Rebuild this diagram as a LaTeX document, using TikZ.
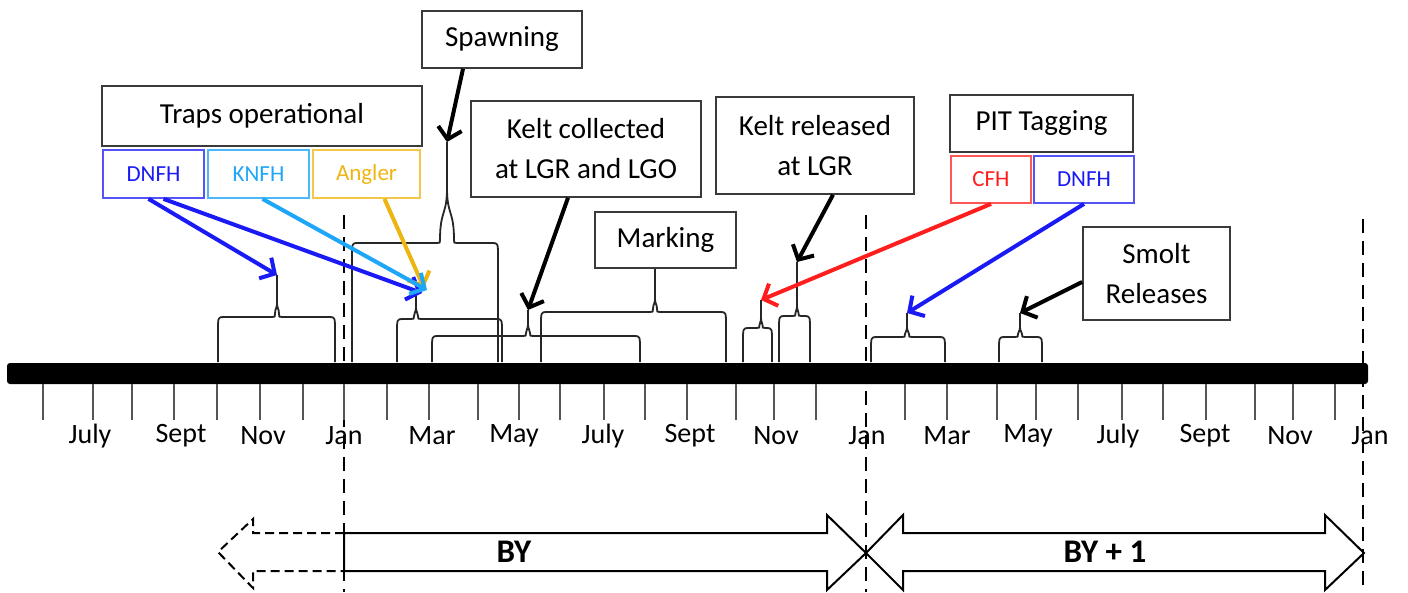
\documentclass[tikz,border=0pt]{standalone}
\usepackage{fontspec}
\setmainfont{Carlito}
\usetikzlibrary{arrows.meta,positioning,calc}
\definecolor{dnfh}{HTML}{1A1AF5}
\definecolor{knfh}{HTML}{1EA6F7}
\definecolor{angler}{HTML}{EDB511}
\definecolor{cfh}{HTML}{FF1E1E}
\definecolor{boxline}{HTML}{3A3A3A}
\definecolor{tick}{HTML}{555555}

\tikzset{
  tbox/.style={draw=boxline, line width=1.6pt, inner sep=0pt, align=center, font=\fontsize{29}{40}\selectfont},
  sbox/.style={line width=1.8pt, inner sep=0pt, minimum width=101pt, minimum height=48pt, font=\fontsize{23}{28}\selectfont},
  brace/.style={line width=1.8pt, draw=black!85, line join=round},
  ptr/.style={line width=4pt, -{Straight Barb[length=11pt,width=24pt]}},
  month/.style={font=\fontsize{28}{30}\selectfont},
  yr/.style={line width=2pt, line join=miter},
  split/.style={line width=2pt, dash pattern=on 14pt off 8pt},
  yrlbl/.style={font=\fontsize{33}{36}\selectfont\bfseries}
}

% left, right, tip x, shoulder y, tip y, neck half width, neck height, name
\newcommand{\tlbrace}[8]{%
  \draw[brace] (#1,362) -- (#1,#4+14) .. controls (#1,#4) .. (#1+6,#4)
    -- (#3-#6-3,#4) .. controls (#3-#6,#4) .. (#3-#6,#4-3)
    .. controls (#3-#6,#4-0.6*#7) and (#3,#4-0.5*#7) .. (#3,#4-#7) -- (#3,#5);
  \draw[brace] (#3,#4-#7) .. controls (#3,#4-0.5*#7) and (#3+#6,#4-0.6*#7) .. (#3+#6,#4-3)
    .. controls (#3+#6,#4) .. (#3+#6+3,#4) -- (#2-6,#4) .. controls (#2,#4) .. (#2,#4+14) -- (#2,362);
  \coordinate (#8) at (#3,#5);
}

\begin{document}
\begin{tikzpicture}[x=1pt,y=-1pt]
  \useasboundingbox (0,0) rectangle (1408,592);

  \draw[split] (344,215) -- (344,592);
  \draw[split] (866,215) -- (866,592);
  \draw[split] (1363,219) -- (1363,592);

  \fill[rounded corners=3pt] (7,363) rectangle (1368,384);
  \foreach \x in {43,93,132,174,217,260,303,344,387,429,478,519,560,604,645,687,736,774,816,905,947,997,1036,1078,1122,1163,1206,1255,1293,1335}
    \draw[tick, line width=1.5pt] (\x,384) -- (\x,420);
  \foreach \x/\m in {90/July,181/Sept,263/Nov,344/Jan,432/Mar,514/May,603/July,690/Sept,776/Nov,867/Jan,947/Mar,1028/May,1118/July,1205/Sept,1290/Nov,1370/Jan}
    \node[month] (m\x) at (\x,436) {\m};

  \tlbrace{218}{335}{277}{317}{275}{2}{15}{trA}
  \tlbrace{397}{502}{416}{319}{293}{2}{12}{trB}
  \tlbrace{352}{498}{447}{243}{142}{7}{55}{spw}
  \tlbrace{432}{640}{528}{336}{310}{2}{12}{kcol}
  \tlbrace{541}{726}{655}{312}{268}{2}{14}{mrk}
  \tlbrace{743}{772}{761}{328}{300}{1.5}{10}{pcfh}
  \tlbrace{779}{810}{797}{316}{262}{1.5}{10}{krel}
  \tlbrace{871}{945}{907}{337}{313}{2}{10}{pdnfh}
  \tlbrace{999}{1042}{1020}{337}{313}{2}{10}{smr}

  \node[tbox, minimum width=320pt, minimum height=60pt] (traps) at (262,116) {Traps operational};
  \node[sbox, draw=dnfh!75, text=dnfh] (dnfhA) at (153.5,174) {DNFH};
  \node[sbox, draw=knfh!80, text=knfh] (knfh) at (258.5,174) {KNFH};
  \node[sbox, draw=angler!75, text=angler, minimum width=107pt] (angler) at (366.5,174) {Angler};
  \node[tbox, minimum width=160pt, minimum height=57pt] (spawn) at (502,39.5) {Spawning};
  \node[tbox, minimum width=230pt, minimum height=96pt] (keltcol) at (586,149) {Kelt collected\\at LGR and LGO};
  \node[tbox, minimum width=141pt, minimum height=56pt] (marking) at (665.5,240) {Marking};
  \node[tbox, minimum width=198pt, minimum height=97pt] (keltrel) at (815,145.5) {Kelt released\\at LGR};
  \node[tbox, minimum width=183pt, minimum height=57pt] (pit) at (1041.5,123.5) {PIT Tagging};
  \node[sbox, draw=cfh!75, text=cfh, minimum width=80pt, minimum height=47pt] (cfh) at (991,179.5) {CFH};
  \node[sbox, draw=dnfh!75, text=dnfh, minimum width=100pt, minimum height=47pt] (dnfhB) at (1084,179.5) {DNFH};
  \node[tbox, minimum width=147pt, minimum height=93pt] (smolt) at (1156.5,273.5) {Smolt\\Releases};

  \draw[ptr, dnfh] ([xshift=-5pt]dnfhA.south) -- (trA);
  \draw[ptr, dnfh] ([xshift=10pt]dnfhA.south) -- ([xshift=6pt]trB);
  \draw[ptr, angler] ([xshift=18pt]angler.south) -- ([xshift=8pt,yshift=5pt]trB);
  \draw[ptr, knfh] ([xshift=4pt]knfh.south) -- ([xshift=11pt,yshift=3pt]trB);
  \draw[ptr] ([xshift=-39pt]spawn.south) -- (spw);
  \draw[ptr] ([xshift=-18pt]keltcol.south) -- (kcol);
  \draw[ptr] ([xshift=18pt]keltrel.south) -- (krel);
  \draw[ptr, cfh] (cfh.south) -- (pcfh);
  \draw[ptr, dnfh] (dnfhB.south) -- (pdnfh);
  \draw[ptr] ([yshift=-8.5pt]smolt.west) -- (smr);

  \draw[yr, dash pattern=on 9pt off 5pt] (344,533) -- (253,533) -- (253,519) -- (218,552) -- (253,588) -- (253,571) -- (344,571);
  \draw[yr] (344,533) -- (827,533) -- (827,515) -- (866,553) -- (827,590) -- (827,571) -- (344,571) -- cycle;
  \draw[yr] (866,553) -- (903,515) -- (903,533) -- (1325,533) -- (1325,515) -- (1364,553)
    -- (1325,590) -- (1325,571) -- (903,571) -- (903,590) -- cycle;
  \node[yrlbl] (by) at (514,552) {BY};
  \node[yrlbl] (byone) at (1105,552) {BY + 1};
\end{tikzpicture}
\end{document}
